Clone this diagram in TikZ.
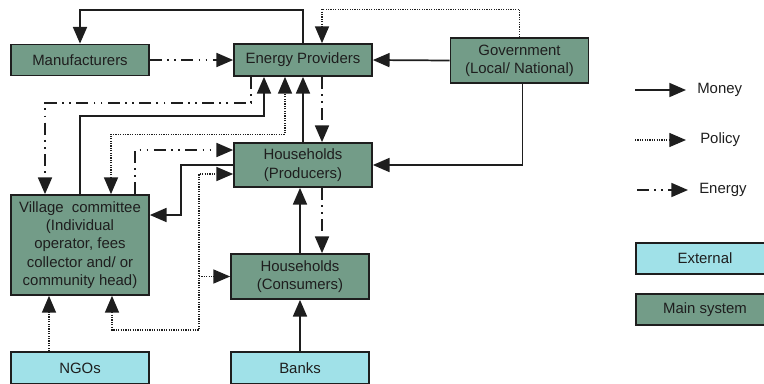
\documentclass[tikz,border=0pt]{standalone}
\usepackage{fontspec}
\setmainfont{Liberation Sans}
\usetikzlibrary{arrows.meta,calc}
\definecolor{mainsys}{HTML}{739C88}
\definecolor{extsys}{HTML}{A0E1E8}
\definecolor{ink}{HTML}{1E1E1E}
\tikzset{
  lbl/.style={font=\fontsize{11.2}{13.75}\selectfont, text=ink},
  box/.style={lbl, draw=ink, line width=1.3pt, rectangle, align=center,
              inner sep=0pt, minimum width=103.5pt},
  mainbox/.style={box, fill=mainsys},
  extbox/.style={box, fill=extsys},
  tip/.tip={Triangle[length=12.5pt,width=10.5pt]},
  flow/.style={draw=ink, line width=1.3pt, -tip},
  money/.style={flow},
  policy/.style={flow, line width=0.9pt, dash pattern=on 0.9pt off 0.9pt},
  energy/.style={flow, dash pattern=on 9pt off 4pt on 1.3pt off 4pt on 1.3pt off 4pt},
  legtext/.style={lbl, anchor=west, inner sep=0pt},
}
\begin{document}
\begin{tikzpicture}[x=0.75pt, y=-0.75pt]
\useasboundingbox (0,0) rectangle (764,383);

% actors
\node[mainbox, minimum height=23.25pt] (mfr) at (80,60) {Manufacturers};
\node[mainbox, minimum height=24pt] (ep) at (303,60) {Energy Providers};
\node[mainbox, minimum height=33.75pt] (gov) at (519.5,60.5) {Government\\(Local/ National)};
\node[mainbox, minimum height=33pt] (hp) at (303,165) {Households\\(Producers)};
\node[mainbox, minimum height=75pt] (vc) at (80,245)
  {Village\ \ committee\\(Individual\\operator, fees\\collector and/ or\\community head)};
\node[mainbox, minimum height=33.75pt] (hc) at (300,276.5) {Households\\(Consumers)};
\node[extbox, minimum height=24pt] (ngo) at (80,368) {NGOs};
\node[extbox, minimum height=24pt] (banks) at (300,368) {Banks};

% legend
\coordinate (lmA) at (635,90);  \coordinate (lmB) at (686,90);
\coordinate (lpA) at (635,140); \coordinate (lpB) at (686,140);
\coordinate (leA) at (637,190); \coordinate (leB) at (688,190);
\node[legtext] (lmT) at (697,90) {Money};
\node[legtext] (lpT) at (700,140) {Policy};
\node[legtext] (leT) at (699,190) {Energy};
\draw[money] (lmA) -- (lmB);
\draw[policy] (lpA) -- (lpB);
\draw[energy] (leA) -- (leB);
\node[extbox, minimum height=23.25pt] (lext) at (705,258.5) {External};
\node[mainbox, minimum height=23.25pt] (lmain) at (705,309.5) {Main system};

% attachment points on box sides
\coordinate (govS) at ($(gov.south)+(3,0)$);
\coordinate (epS1) at ($(ep.south)+(-52,0)$);
\coordinate (epS2) at ($(ep.south)+(-39,0)$);
\coordinate (epS3) at ($(ep.south)+(-18,0)$);
\coordinate (epS4) at ($(ep.south)+(19,0)$);
\coordinate (epN) at ($(ep.north)+(19,0)$);
\coordinate (vcN1) at ($(vc.north)+(-35,0)$);
\coordinate (vcN2) at ($(vc.north)+(31,0)$);
\coordinate (vcN3) at ($(vc.north)+(55,0)$);
\coordinate (vcS) at ($(vc.south)+(32,0)$);
\coordinate (vcE) at ($(vc.east)+(0,-30)$);
\coordinate (hpW1) at ($(hp.west)+(0,-15)$);
\coordinate (hpW2) at ($(hp.west)+(0,9)$);
\coordinate (hpS) at ($(hp.south)+(19,0)$);
\coordinate (ngoN) at ($(ngo.north)+(-31,0)$);
\coordinate (tj) at (199,330);

% money flows
\draw[money] (ep.north) -- ++(0,-33) -| (mfr.north);
\draw[money] (gov.west) -- (ep.east);
\draw[money] (govS) |- (hp.east);
\draw[money] (vc.north) -- ++(0,-78) -| (epS2);
\draw[money] (hp.north) -- (ep.south);
\draw[money] (hp.west) -- ++(-52,0) |- (vcE);
\draw[money] (hc.north) -- (hc.north |- hp.south);
\draw[money] (banks.north) -- (hc.south);

% energy flows
\draw[energy] (mfr.east) -- (ep.west);
\draw[energy] (epS1) -- ++(0,26) -| (vcN1);
\draw[energy] (epS4) -- (epS4 |- hp.north);
\draw[energy] (vcN3) |- (hpW1);
\draw[energy] (hpS) -- (hpS |- hc.north);

% policy flows
\draw[policy] (gov.north) -- ++(0,-28) -| (epN);
\draw[policy, tip-tip] (vcN2) -- ++(0,-60) -| (epS3);
\draw[policy, tip-tip] (vcS) |- (tj) |- (hpW2);
\draw[policy] (tj |- hc.west) -- (hc.west);
\draw[policy] (ngoN) -- (ngoN |- vc.south);
\end{tikzpicture}
\end{document}
